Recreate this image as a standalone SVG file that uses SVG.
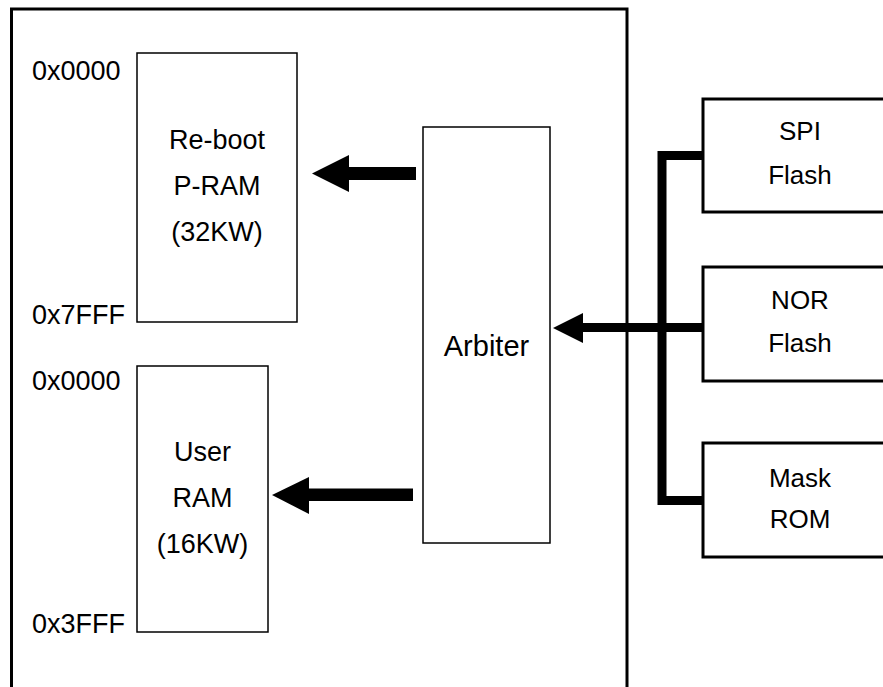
<svg xmlns="http://www.w3.org/2000/svg" width="883" height="687" viewBox="0 0 883 687">
  <style>
    .lbl { font-family: "Liberation Sans", Arial, Helvetica, sans-serif; font-size: 27px; fill: #000; }
    .mid { text-anchor: middle; }
    .big { font-size: 29px; }
    .ext { font-size: 26px; }
    .thin { fill: #fff; stroke: #000; stroke-width: 1.5; }
    .thick { fill: #fff; stroke: #000; stroke-width: 3; }
    .bus { fill: none; stroke: #000; stroke-width: 9; stroke-linejoin: miter; }
    .solid { fill: #000; stroke: none; }
  </style>
  <rect width="883" height="687" fill="#fff"/>

  <!-- chip boundary -->
  <g id="chip">
    <rect class="thick" x="11.5" y="9" width="615.5" height="700"/>
  </g>

  <g id="preboot-ram">
    <rect class="thin" x="137" y="53" width="160" height="269"/>
    <text class="lbl mid" x="217" y="149">Re-boot</text>
    <text class="lbl mid" x="217" y="195">P-RAM</text>
    <text class="lbl mid" x="217" y="241">(32KW)</text>
    <text class="lbl" x="32" y="80">0x0000</text>
    <text class="lbl" x="32" y="324">0x7FFF</text>
  </g>

  <g id="user-ram">
    <rect class="thin" x="137" y="366" width="131" height="266"/>
    <text class="lbl mid" x="202.5" y="461">User</text>
    <text class="lbl mid" x="202.5" y="507">RAM</text>
    <text class="lbl mid" x="202.5" y="553">(16KW)</text>
    <text class="lbl" x="32" y="390">0x0000</text>
    <text class="lbl" x="32" y="633">0x3FFF</text>
  </g>

  <g id="arbiter">
    <rect class="thin" x="423" y="127" width="127" height="416"/>
    <text class="lbl big mid" x="486.5" y="356">Arbiter</text>
  </g>

  <g id="spi-flash">
    <rect class="thick" x="703" y="99" width="200" height="113"/>
    <text class="lbl ext mid" x="800" y="140">SPI</text>
    <text class="lbl ext mid" x="800" y="184">Flash</text>
  </g>

  <g id="nor-flash">
    <rect class="thick" x="703" y="267" width="200" height="114"/>
    <text class="lbl ext mid" x="800" y="309">NOR</text>
    <text class="lbl ext mid" x="800" y="352">Flash</text>
  </g>

  <g id="mask-rom">
    <rect class="thick" x="703" y="443" width="200" height="114"/>
    <text class="lbl ext mid" x="800" y="487">Mask</text>
    <text class="lbl ext mid" x="800" y="528">ROM</text>
  </g>

  <g id="connectors">
    <!-- shared bus from the external memories -->
    <path class="bus" d="M703,155.5 H662 V500.5 H703"/>
    <path class="bus" d="M703,327.5 H582"/>
    <polygon class="solid" points="553,328 583,313 583,343"/>
    <!-- arbiter to P-RAM -->
    <rect class="solid" x="348" y="167" width="68" height="13"/>
    <polygon class="solid" points="312,173.5 349,155 349,192"/>
    <!-- arbiter to user RAM -->
    <rect class="solid" x="308" y="488.5" width="105" height="12.5"/>
    <polygon class="solid" points="272,495 309,477 309,514"/>
  </g>
</svg>
